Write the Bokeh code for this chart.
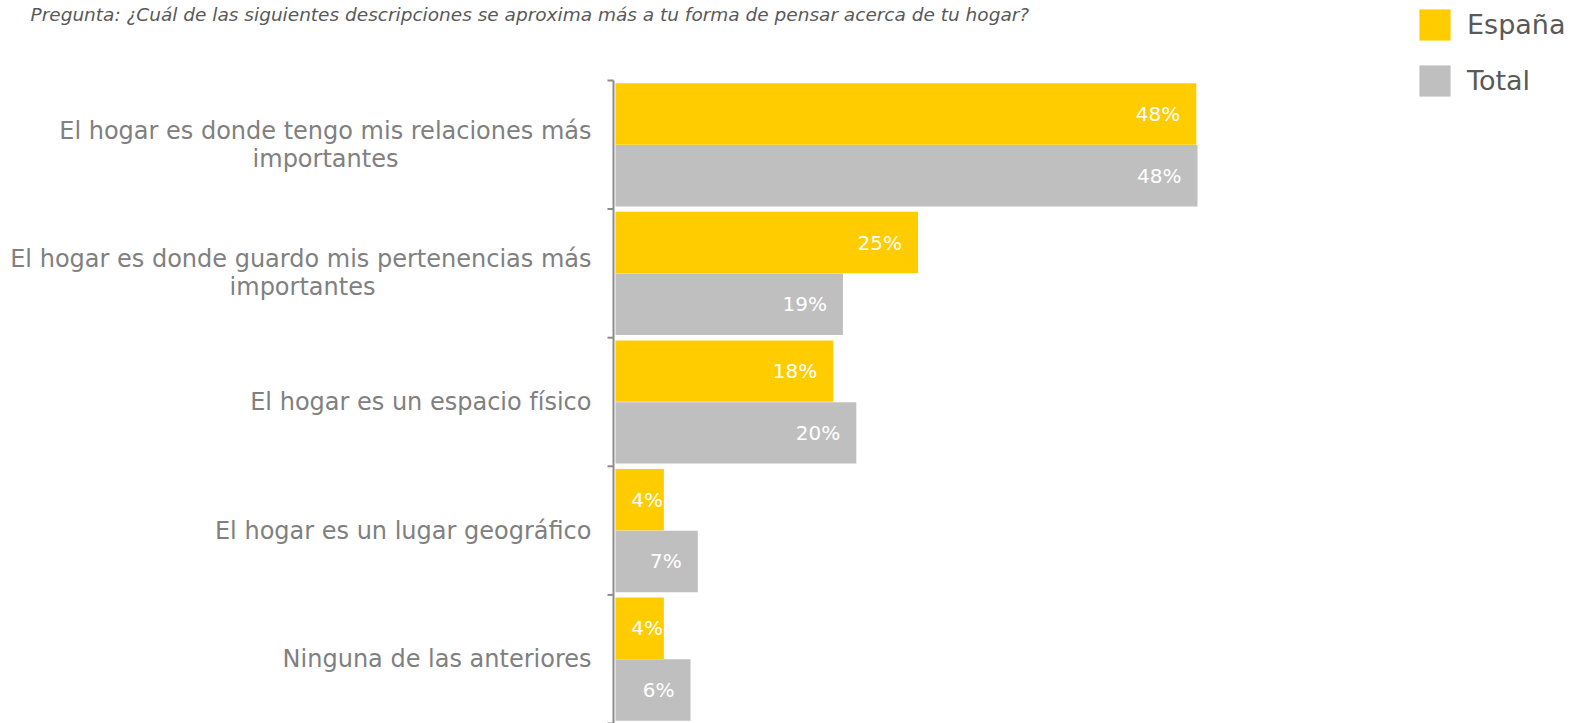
from bokeh.plotting import figure
from bokeh.models import Range1d, Legend, LegendItem, ColumnDataSource
from bokeh.transform import dodge
from bokeh.embed import file_html
from bokeh.resources import INLINE
from bokeh.core.properties import value

title_text = "Pregunta: ¿Cuál de las siguientes descripciones se aproxima más a tu forma de pensar acerca de tu hogar?"
categories = [
    "El hogar es donde tengo mis relaciones más\nimportantes",
    "El hogar es donde guardo mis pertenencias más\nimportantes",
    "El hogar es un espacio físico",
    "El hogar es un lugar geográfico",
    "Ninguna de las anteriores",
]
series_names = ["España", "Total"]
espana = [48.0, 25.0, 18.0, 4.0, 4.0]
total = [48.1, 18.8, 19.9, 6.8, 6.2]

# ---- styling ----
FONT = "DejaVu Sans"
YELLOW = "#FFCC00"
GRAY = "#BFBFBF"
AXIS_COLOR = "#8C8C8C"
W, H = 1570, 723
PX_PER_UNIT = 12.1          # pixels per percentage point
ORIGIN_X = 615              # pixel column of value 0
BAND_PX = 128.6             # pixel height of one category band
TOP_PX = 80                 # pixel row of the top of the first band
px = 1.0 / PX_PER_UNIT
n = len(categories)

pos = list(range(n))
src = ColumnDataSource(dict(
    pos=pos,
    espana=espana,
    total=total,
    lab_es=[f"{round(v)}%" for v in espana],
    lab_tot=[f"{round(v)}%" for v in total],
    off_es=[-16 if v >= 6 else -1 for v in espana],
    off_tot=[-16 if v >= 6 else -1 for v in total],
))

x_start = -ORIGIN_X * px
x_end = (W - ORIGIN_X) * px
y_top = -0.5 - TOP_PX / BAND_PX
y_bottom = y_top + H / BAND_PX

p = figure(width=W, height=H, output_backend="svg", toolbar_location=None,
           x_range=Range1d(x_start, x_end), y_range=Range1d(start=y_bottom, end=y_top),
           x_axis_location=None, y_axis_location=None,
           min_border_left=0, min_border_top=0, min_border_bottom=0, min_border_right=0)
p.outline_line_color = None
p.grid.visible = False
p.background_fill_color = "white"

# axis line and band-boundary ticks
bounds = [i - 0.5 for i in range(n + 1)]
p.segment(x0=[-2 * px], y0=[bounds[0]], x1=[-2 * px], y1=[bounds[-1]],
          line_color=AXIS_COLOR, line_width=2)
p.segment(x0=[-8 * px] * len(bounds), y0=bounds, x1=[-2 * px] * len(bounds), y1=bounds,
          line_color=AXIS_COLOR, line_width=2)

bh = 0.478
r1 = p.hbar(y=dodge("pos", -0.24, range=p.y_range), right="espana", left=0, height=bh,
            source=src, fill_color=YELLOW, line_color=None)
r2 = p.hbar(y=dodge("pos", 0.24, range=p.y_range), right="total", left=0, height=bh,
            source=src, fill_color=GRAY, line_color=None)

p.text(x="espana", y=dodge("pos", -0.24, range=p.y_range), text="lab_es", source=src,
       x_offset="off_es", text_align="right", text_baseline="middle",
       text_color="white", text_font=value(FONT), text_font_size="20px")
p.text(x="total", y=dodge("pos", 0.24, range=p.y_range), text="lab_tot", source=src,
       x_offset="off_tot", text_align="right", text_baseline="middle",
       text_color="white", text_font=value(FONT), text_font_size="20px")

# category labels (first line right aligned, continuation lines centred under it)
second_line_center = [-290, -313]
lt, ly, lyo, lxo, la = [], [], [], [], []
for i, c in enumerate(categories):
    lines = c.split("\n")
    k = len(lines)
    for j, line in enumerate(lines):
        lt.append(line)
        ly.append(i)
        lyo.append((j - (k - 1) / 2) * 28)
        if j == 0:
            lxo.append(-24)
            la.append("right")
        else:
            lxo.append(second_line_center[i])
            la.append("center")
lsrc = ColumnDataSource(dict(t=lt, y=ly, yo=lyo, xo=lxo, a=la, x=[0] * len(lt)))
p.text(x="x", y="y", text="t", x_offset="xo", y_offset="yo", text_align="a",
       text_baseline="middle", source=lsrc, text_color="#808080",
       text_font=value(FONT), text_font_size="24px")

# title
p.text(x=[x_start], y=[y_top], text=[title_text], x_offset=30, y_offset=3,
       text_align="left", text_baseline="top", text_color="#595959",
       text_font=value(FONT), text_font_style="italic", text_font_size="18.5px")

legend = Legend(items=[LegendItem(label=series_names[0], renderers=[r1]),
                       LegendItem(label=series_names[1], renderers=[r2])],
                location=(1415, 623), glyph_width=39, glyph_height=39, label_height=39,
                label_standoff=13, spacing=17, padding=0, margin=0,
                label_text_font=FONT, label_text_font_size="27px",
                label_text_color="#595959", border_line_alpha=0, background_fill_alpha=0)
p.add_layout(legend)

open("out.html", "w").write(file_html(p, INLINE))
